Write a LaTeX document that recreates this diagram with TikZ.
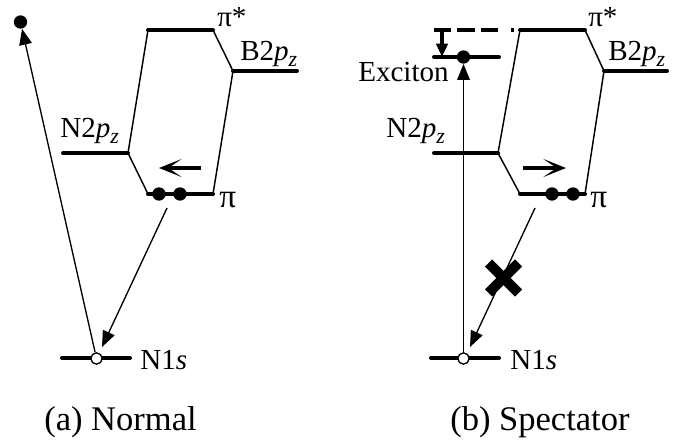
\documentclass[tikz,border=0pt]{standalone}
\usepackage{fontspec}
\setmainfont{Liberation Serif}
\usetikzlibrary{arrows.meta}
\newcommand{\subz}{\raisebox{-4.5pt}{\fontsize{16.5pt}{16.5pt}\selectfont\textit{z}}}
\newcommand{\bigpi}{{\fontsize{25pt}{25pt}\selectfont π}}
\tikzset{
  lvl/.style={line width=3pt,line cap=round},
  link/.style={line width=1.1pt},
  trans/.style={line width=1pt,-{Triangle[length=12pt,width=9.5pt]}},
  bandarrow/.style={line width=2.8pt,-{Stealth[length=17pt,width=13.5pt,inset=10pt]}},
  electron/.style={circle,fill=black,inner sep=0pt,minimum size=10pt},
  hole/.style={circle,draw=black,fill=white,line width=1pt,inner sep=0pt,minimum size=8.5pt},
  lab/.style={inner sep=0pt,anchor=base west,font=\fontsize{21.8pt}{24pt}\selectfont},
  capt/.style={inner sep=0pt,anchor=base west,font=\fontsize{25.9pt}{30pt}\selectfont}
}
\begin{document}
\begin{tikzpicture}[x=0.75pt,y=-0.75pt]
\useasboundingbox (0,0) rectangle (681,443);
% ---------- panel a
\coordinate (apsL) at (148,30); \coordinate (apsR) at (213,30);
\coordinate (abL) at (233,71); \coordinate (abR) at (297,71);
\coordinate (anL) at (63,153); \coordinate (anR) at (128,153);
\coordinate (apL) at (148,194); \coordinate (apR) at (213,194);
\coordinate (asL) at (62,358); \coordinate (asR) at (130,358);
\coordinate (aemS) at (167,208); \coordinate (aemE) at (102,347);
\coordinate (aarS) at (201,168); \coordinate (aarE) at (159,168);
\draw[link] (anR) -- (apsL) (apsR) -- (abL) (anR) -- (apL) (apR) -- (abL);
\draw[lvl] (apsL) -- (apsR);
\draw[lvl] (abL) -- (abR);
\draw[lvl] (anL) -- (anR);
\draw[lvl] (apL) -- (apR);
\draw[lvl] (asL) -- (asR);
\node[electron] (ae1) at (159,194) {};
\node[electron] (ae2) at (180,194) {};
\node[electron] (aeT) at (20.5,22) {};
\node[hole] (ah) at (96.5,358.5) {};
\draw[trans] (ah) -- (aeT);
\draw[trans] (aemS) -- (aemE);
\draw[bandarrow] (aarS) -- (aarE);
\node[lab] (a1) at (217,26.5) {π*};
\node[lab] (a2) at (240,60) {B2\textit{p}\subz};
\node[lab] (a3) at (60,137) {N2\textit{p}\subz};
\node[lab] (a4) at (219,207) {\bigpi};
\node[lab] (a5) at (140,369) {N1\textit{s}};
\node[capt] (a6) at (44,430) {(a) Normal};
% ---------- panel b
\coordinate (bpsL) at (520,30); \coordinate (bpsR) at (585,30);
\coordinate (bbL) at (604,71); \coordinate (bbR) at (667,71);
\coordinate (bnL) at (434,153); \coordinate (bnR) at (498,153);
\coordinate (bpL) at (520,194); \coordinate (bpR) at (585,194);
\coordinate (bsL) at (431,358); \coordinate (bsR) at (499,358);
\coordinate (bxL) at (434,57); \coordinate (bxR) at (499,57);
\coordinate (bdL) at (434,30);
\coordinate (bdnS) at (442,30); \coordinate (bdnE) at (442,57);
\coordinate (bemS) at (535,208); \coordinate (bemE) at (470,347);
\coordinate (barS) at (523,168); \coordinate (barE) at (566,168);
\draw[link] (bnR) -- (bpsL) (bpsR) -- (bbL) (bnR) -- (bpL) (bpR) -- (bbL);
\draw[lvl] (bpsL) -- (bpsR);
\draw[lvl] (bbL) -- (bbR);
\draw[lvl] (bnL) -- (bnR);
\draw[lvl] (bpL) -- (bpR);
\draw[lvl] (bsL) -- (bsR);
\draw[lvl] (bxL) -- (bxR);
\draw[line width=3pt,dash pattern=on 13pt off 4.5pt on 13pt off 4.5pt on 13pt off 9.5pt on 2.5pt off 10pt] (bdL) -- (bpsL);
\node[electron] (be1) at (552,194) {};
\node[electron] (be2) at (573,194) {};
\node[electron] (beT) at (463.5,57) {};
\node[hole] (bh) at (463.5,358.5) {};
\draw[trans] (bh) -- (beT);
\draw[trans] (bemS) -- (bemE);
\draw[bandarrow] (barS) -- (barE);
\draw[line width=2.8pt,-{Triangle[length=10pt,width=8.5pt]}] (bdnS) -- (bdnE);
\node[lab] (b1) at (588,26.5) {π*};
\node[lab] (b2) at (608,60) {B2\textit{p}\subz};
\node[lab] (b3) at (386,137) {N2\textit{p}\subz};
\node[lab] (b4) at (590,207) {\bigpi};
\node[lab] (b5) at (510,369) {N1\textit{s}};
\node[lab] (b7) at (358,81) {Exciton};
\node[capt] (b6) at (450,430) {(b) Spectator};
% cross
\coordinate (cx) at (503.5,278);
\draw[line width=7.5pt] ([shift={(-15,-15)}]cx) -- ([shift={(15,15)}]cx);
\draw[line width=7.5pt] ([shift={(-15,15)}]cx) -- ([shift={(15,-15)}]cx);
\end{tikzpicture}
\end{document}
